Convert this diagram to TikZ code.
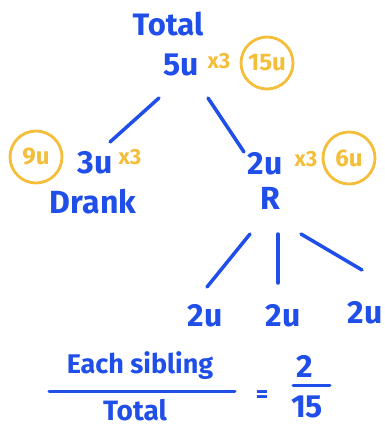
\documentclass[tikz,border=0pt]{standalone}
\usepackage{fontspec}
\setmainfont{Fira Sans}
\definecolor{pen}{RGB}{32,78,232}
\definecolor{mark}{RGB}{245,190,58}
\begin{document}
\begin{tikzpicture}[x=1pt,y=-1pt,
  bluetxt/.style={text=pen,inner sep=0pt,font=\fontsize{#1}{#1}\selectfont\bfseries},
  bluetxt/.default=32,
  orgtxt/.style={text=mark,inner sep=0pt,font=\fontsize{22}{22}\selectfont\bfseries},
  ring/.style={draw=mark,line width=2.8pt,circle,minimum size=52pt,inner sep=0pt,text=mark,font=\fontsize{24}{24}\selectfont\bfseries},
  stroke/.style={draw=pen,line width=3.5pt,line cap=round}]
\useasboundingbox (0,0) rectangle (384,429);
% top
\node[bluetxt=31] (total) at (168,24) {Total};
\node[bluetxt] (five) at (181,65) {5u};
\node[orgtxt] (x3a) at (219,61) {x3};
\node[ring] (c15) at (267,63) {15u};
% left branch
\node[ring] (c9) at (36,157) {9u};
\node[bluetxt] (three) at (95,163) {3u};
\node[orgtxt] (x3b) at (130,157) {x3};
\node[bluetxt] (drank) at (93,202) {Drank};
% right branch
\node[bluetxt] (two) at (265,164) {2u};
\node[orgtxt] (x3c) at (306,159) {x3};
\node[ring] (c6) at (349,158) {6u};
\node[bluetxt] (r) at (270,198) {R};
% children
\node[bluetxt] (s1) at (205,316) {2u};
\node[bluetxt] (s2) at (283,316) {2u};
\node[bluetxt] (s3) at (365,313) {2u};
% connector ends
\coordinate (a1) at (159,98);
\coordinate (a2) at (110,142);
\coordinate (b1) at (208,98);
\coordinate (b2) at (244,152);
\coordinate (c1) at (250,234);
\coordinate (c2) at (207,287);
\coordinate (d1) at (278,234);
\coordinate (d2) at (278,283);
\coordinate (e1) at (301,234);
\coordinate (e2) at (362,270);
\draw[stroke] (a1) -- (a2);
\draw[stroke] (b1) -- (b2);
\draw[stroke] (c1) -- (c2);
\draw[stroke] (d1) -- (d2);
\draw[stroke] (e1) -- (e2);
% fraction
\node[bluetxt=27] (num) at (140,366) {Each sibling};
\node[bluetxt=28] (den) at (135,410) {Total};
\coordinate (f1) at (49,391);
\coordinate (f2) at (235,391);
\draw[stroke,line width=3pt] (f1) -- (f2);
\node[bluetxt=24] (eq) at (262,397) {=};
\node[bluetxt=32] (n2) at (305,366) {2};
\node[bluetxt=32] (n15) at (307,407) {15};
\coordinate (g1) at (293,385);
\coordinate (g2) at (330,385);
\draw[stroke,line width=3pt] (g1) -- (g2);
\end{tikzpicture}
\end{document}
